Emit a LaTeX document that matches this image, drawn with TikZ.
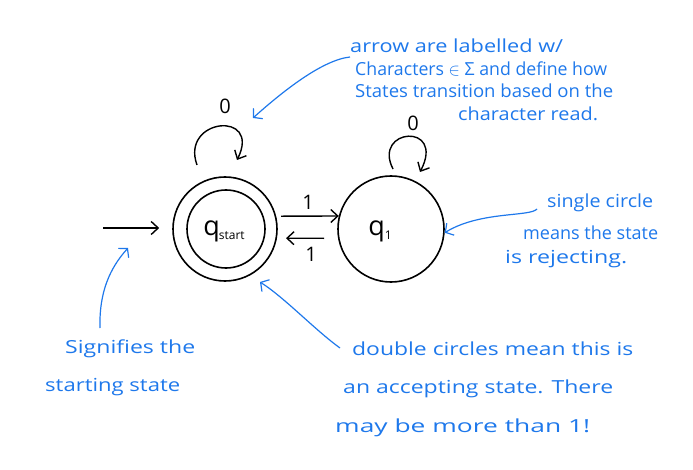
\documentclass[tikz,border=0pt]{standalone}
\usepackage{fontspec}
\setmainfont{Open Sans}
\usetikzlibrary{arrows.meta}
\definecolor{pen}{RGB}{30,120,235}
\newcommand\hw[2]{\resizebox{#1pt}{\height}{#2}}
\begin{document}
\begin{tikzpicture}[x=1pt,y=-1pt,
  state/.style={circle,draw,line width=1.6pt,inner sep=0pt},
  edge/.style={line width=1.4pt,-{Straight Barb[length=7pt,width=13pt,line width=1.4pt]}},
  note/.style={pen,line width=1.2pt,-{Straight Barb[length=6pt,width=14pt,line width=1.2pt]}},
  notetext/.style={pen,anchor=base west,inner sep=0pt,font=\fontsize{18}{18}\selectfont},
  lbl/.style={font=\fontsize{20}{20}\selectfont,inner sep=0pt}]
\useasboundingbox (0,0) rectangle (693,470);

% states
\node[state,minimum size=104pt] (qs) at (225,229) {};
\node[state,minimum size=78pt] (qsin) at (226,229) {};
\node[lbl] (qslab) at (224,231) {\fontsize{27}{27}\selectfont q\kern-1pt\raisebox{-4pt}{\fontsize{12}{12}\selectfont start}};
\node[state,minimum size=106pt] (q1) at (391,229) {};
\node[lbl] (q1lab) at (380,231) {\fontsize{27}{27}\selectfont q\raisebox{-4pt}{\fontsize{12}{12}\selectfont 1}};

% start arrow
\coordinate (init) at (103,228);
\draw[edge,shorten >=13pt] (init) -- (init -| qs.west);

% transitions
\draw[edge,shorten <=5pt] (qs.14) -- (q1.166);
\draw[edge,shorten <=14pt,shorten >=9pt] (q1.190) -- (qs.-10);
\node[lbl] (one1) at (308,202) {1};
\node[lbl] (one2) at (311,254) {1};

% self loops
\coordinate (l0s) at (197,165);
\coordinate (l0e) at (237,160);
\draw[edge] (l0s) .. controls (180,118) and (262,110) .. (l0e);
\node[lbl] (z1) at (225,106) {0};
\coordinate (l1s) at (393,169);
\coordinate (l1e) at (420,172);
\draw[edge] (l1s) .. controls (372,128) and (446,122) .. (l1e);
\node[lbl] (z2) at (413,123) {0};

% annotation: top
\node[notetext] (t1) at (350,53) {\hw{213}{arrow are labelled w/}};
\node[notetext] (t2) at (355,76) {\hw{252}{Characters $\in$ Σ and define how}};
\node[notetext] (t3) at (355,98) {\hw{258}{States transition based on the}};
\node[notetext] (t4) at (458,121) {\hw{140}{character read.}};
\coordinate (a1s) at (350,57);
\coordinate (a1e) at (253,118);
\draw[note] (a1s) .. controls (322,60) and (282,92) .. (a1e);

% annotation: right
\node[notetext] (r1) at (547,208) {\hw{106}{single circle}};
\node[notetext] (r2) at (523,240) {\hw{135}{means the state}};
\node[notetext] (r3) at (505,264) {\hw{122}{is rejecting.}};
\coordinate (a2s) at (537,209);
\draw[note] (a2s) .. controls (530,217) and (480,211) .. (q1.-4);

% annotation: bottom left
\node[notetext] (b1) at (65,353) {\hw{130}{Signifies the}};
\node[notetext] (b2) at (45,391) {\hw{135}{starting state}};
\coordinate (a3s) at (100,328);
\coordinate (a3e) at (128,248);
\draw[note] (a3s) .. controls (99,292) and (110,268) .. (a3e);

% annotation: bottom
\node[notetext] (c1) at (352,355) {\hw{281}{double circles mean this is}};
\node[notetext] (c2) at (343,393) {\hw{270}{an accepting state. There}};
\node[notetext] (c3) at (335,432) {\hw{255}{may be more than 1!}};
\coordinate (a4s) at (340,348);
\coordinate (a4e) at (260,282);
\draw[note] (a4s) .. controls (315,330) and (285,298) .. (a4e);
\end{tikzpicture}
\end{document}
